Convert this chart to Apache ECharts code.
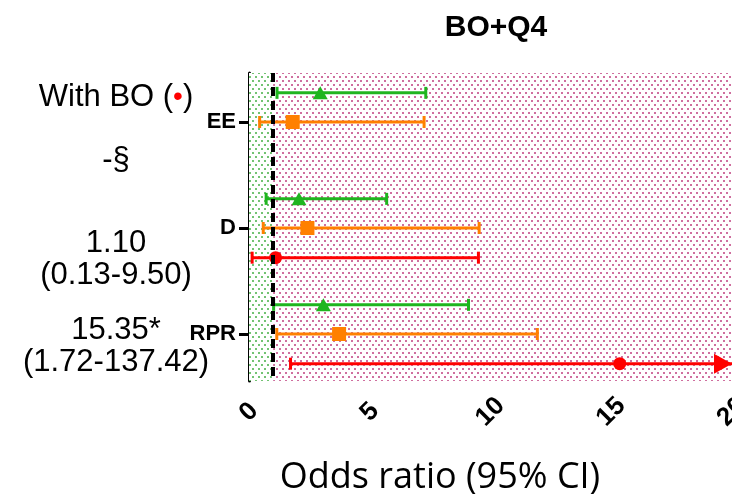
<!DOCTYPE html>
<html>
<head>
<meta charset="utf-8">
<script src="https://cdn.jsdelivr.net/npm/echarts@6/dist/echarts.min.js"></script>
<style>
html,body{margin:0;padding:0;background:#fff;}
#chart{width:732px;height:499px;}
</style>
</head>
<body>
<div id="chart"></div>
<script>
// ---- data ----
const categories = ['EE', 'D', 'RPR'];
const xTicks = [0, 5, 10, 15, 20];
const titleText = 'BO+Q4';
const axisTitle = 'Odds ratio (95% CI)';

// green triangles
const greenOR = [2.95, 2.07, 3.08];
const greenLo = [1.16, 0.71, 1.02];
const greenHi = [7.32, 5.70, 9.09];
// orange squares
const orangeOR = [1.81, 2.42, 3.73];
const orangeLo = [0.44, 0.59, 1.15];
const orangeHi = [7.25, 9.53, 11.94];
// red circles (With BO)
const redOR = [null, 1.10, 15.35];
const redLo = [null, 0.13, 1.72];
const redHi = [null, 9.50, 137.42];

const leftLabels = ['-§', '1.10', '(0.13-9.50)', '15.35*', '(1.72-137.42)'];
const refLine = 1;

// ---- helpers ----
const X_MAX = xTicks[xTicks.length - 1];
const ROW_OFF = { green: -0.275, orange: 0, red: 0.28 };

function errData(lo, hi, off) {
  return categories.map((c, i) => lo[i] == null ? null : [lo[i], hi[i], i + off]).filter(Boolean);
}
function ptData(v, off) {
  return categories.map((c, i) => v[i] == null ? null : [v[i], i + off]).filter(Boolean);
}
function makeErr(color) {
  return function (params, api) {
    const lo = api.value(0), hi = api.value(1), y = api.value(2);
    const a = api.coord([lo, y]);
    const b = api.coord([Math.min(hi, X_MAX), y]);
    const cap = 6;
    const st = { stroke: color, lineWidth: 3 };
    const ch = [
      { type: 'line', shape: { x1: a[0], y1: a[1], x2: b[0], y2: b[1] }, style: st },
      { type: 'line', shape: { x1: a[0], y1: a[1] - cap, x2: a[0], y2: a[1] + cap }, style: st }
    ];
    if (hi <= X_MAX) {
      ch.push({ type: 'line', shape: { x1: b[0], y1: b[1] - cap, x2: b[0], y2: b[1] + cap }, style: st });
    } else {
      ch.push({ type: 'polygon', shape: { points: [[b[0], b[1]], [b[0] - 18, b[1] - 10], [b[0] - 18, b[1] + 10]] }, style: { fill: color } });
    }
    return { type: 'group', children: ch };
  };
}
function makePattern(col) {
  const c = document.createElement('canvas');
  c.width = 6; c.height = 8;
  const ctx = c.getContext('2d');
  ctx.fillStyle = '#ffffff';
  ctx.fillRect(0, 0, 6, 8);
  ctx.fillStyle = col;
  ctx.fillRect(0, 0, 2, 2);
  ctx.fillRect(3, 4, 2, 2);
  return c;
}

const GREEN = '#1fb51f', ORANGE = '#ff8000', RED = '#ff0000';
const chart = echarts.init(document.getElementById('chart'));

const option = {
  animation: false,
  backgroundColor: '#ffffff',
  title: {
    text: titleText, left: 491, top: 8, textAlign: 'center',
    textStyle: { fontFamily: 'Liberation Sans', fontWeight: 'bold', fontSize: 30, color: '#000' }
  },
  grid: { left: 249, right: 0, top: 73, bottom: 118, containLabel: false, outerBoundsMode: 'none' },
  xAxis: {
    type: 'value', min: 0, max: X_MAX, interval: 5,
    axisLine: { show: true, lineStyle: { color: '#000', width: 3 } },
    axisTick: { show: true, length: 8, lineStyle: { color: '#000', width: 3 } },
    axisLabel: {
      rotate: 45, margin: 31, align: 'center', verticalAlign: 'middle',
      color: '#000', fontFamily: 'Liberation Sans', fontWeight: 'bold', fontSize: 26,
      showMaxLabel: true, hideOverlap: false
    },
    splitLine: { show: false }
  },
  yAxis: {
    type: 'value', inverse: true, min: -0.4623, max: 2.4434,
    axisLine: { show: true, lineStyle: { color: '#000', width: 3 } },
    axisTick: { show: true, length: 10, customValues: [0, 1, 2], lineStyle: { color: '#000', width: 3 } },
    axisLabel: {
      customValues: [0, 1, 2], margin: 13, color: '#000', fontFamily: 'Liberation Sans', fontWeight: 'bold', fontSize: 22,
      formatter: v => categories[Math.round(v)]
    },
    splitLine: { show: false }
  },
  graphic: [
    {
      type: 'text', z: 10,
      style: {
        x: 116, y: 97, text: '{a|With BO (}{r|•}{a|)}', align: 'center', verticalAlign: 'middle',
        rich: {
          a: { fontFamily: 'Liberation Sans', fontSize: 31, fill: '#000' },
          r: { fontFamily: 'Liberation Sans', fontSize: 28, fill: '#ff0000' }
        }
      }
    },
    ...leftLabels.map((t, i) => ({
      type: 'text', z: 10,
      style: {
        x: 116, y: [160, 243, 275, 330, 362][i], text: t, align: 'center', verticalAlign: 'middle',
        font: '31px "Liberation Sans"', fill: '#000'
      }
    })),
    {
      type: 'text', z: 10,
      style: {
        x: 440, y: 478, text: axisTitle, align: 'center', verticalAlign: 'middle',
        font: '36px "Open Sans"', fill: '#000'
      }
    }
  ],
  series: [
    {
      type: 'scatter', data: [], z: 1, silent: true,
      markArea: {
        silent: true,
        data: [
          [{ xAxis: 0, itemStyle: { color: { image: makePattern('rgba(80,180,80,0.8)'), repeat: 'repeat' } } }, { xAxis: refLine }],
          [{ xAxis: refLine, itemStyle: { color: { image: makePattern('rgba(195,75,135,0.8)'), repeat: 'repeat' } } }, { xAxis: X_MAX }]
        ]
      },
      markLine: {
        silent: true, symbol: 'none', label: { show: false },
        lineStyle: { color: '#000', width: 4, type: [9, 5] },
        data: [{ xAxis: refLine }]
      }
    },
    { type: 'custom', renderItem: makeErr(GREEN), data: errData(greenLo, greenHi, ROW_OFF.green), encode: { x: [0, 1], y: 2 }, z: 3 },
    { type: 'custom', renderItem: makeErr(ORANGE), data: errData(orangeLo, orangeHi, ROW_OFF.orange), encode: { x: [0, 1], y: 2 }, z: 3 },
    { type: 'custom', renderItem: makeErr(RED), data: errData(redLo, redHi, ROW_OFF.red), encode: { x: [0, 1], y: 2 }, z: 3 },
    { type: 'scatter', symbol: 'triangle', symbolSize: [15, 13], itemStyle: { color: GREEN, opacity: 1 }, data: ptData(greenOR, ROW_OFF.green), z: 4 },
    { type: 'scatter', symbol: 'rect', symbolSize: 14, itemStyle: { color: ORANGE, opacity: 1 }, data: ptData(orangeOR, ROW_OFF.orange), z: 4 },
    { type: 'scatter', symbol: 'circle', symbolSize: 13, itemStyle: { color: RED, opacity: 1 }, data: ptData(redOR, ROW_OFF.red), z: 4 }
  ]
};
chart.setOption(option);
</script>
</body>
</html>
